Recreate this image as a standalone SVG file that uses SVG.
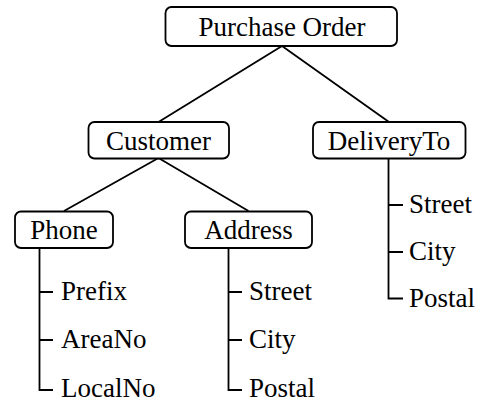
<svg xmlns="http://www.w3.org/2000/svg" width="480" height="403" viewBox="0 0 480 403">
<rect width="480" height="403" fill="#fff"/>
<g id="connectors" fill="none" stroke="#000" stroke-width="1.8">
<path d="M282 46 L158.5 122 M282 46 L389 122"/>
<path d="M158.5 158 L64 211 M158.5 158 L248.5 211"/>
<path d="M388.5 158 V298.5 H403 M388.5 205 H403 M388.5 252 H403"/>
<path d="M39.5 248 V390 H53 M39.5 292 H53 M39.5 340 H53"/>
<path d="M228.5 248 V390 H242 M228.5 292 H242 M228.5 340 H242"/>
</g>
<g id="purchase-order">
<rect x="165.5" y="7" width="231.5" height="39" rx="6" fill="#fff" stroke="#000" stroke-width="1.8"/>
<text font-family="Liberation Serif" font-size="27" text-anchor="middle" x="282" y="35.5">Purchase Order</text>
</g>
<g id="customer">
<rect x="88.5" y="122" width="140.5" height="36.5" rx="6" fill="#fff" stroke="#000" stroke-width="1.8"/>
<text font-family="Liberation Serif" font-size="27" text-anchor="middle" x="158.5" y="150">Customer</text>
</g>
<g id="deliveryto">
<rect x="313" y="122" width="152.5" height="36.5" rx="6" fill="#fff" stroke="#000" stroke-width="1.8"/>
<text font-family="Liberation Serif" font-size="27" text-anchor="middle" x="389" y="150">DeliveryTo</text>
</g>
<g id="phone">
<rect x="15" y="211.5" width="98" height="36.5" rx="6" fill="#fff" stroke="#000" stroke-width="1.8"/>
<text font-family="Liberation Serif" font-size="27" text-anchor="middle" x="64" y="239">Phone</text>
</g>
<g id="address">
<rect x="185" y="211.5" width="127" height="36.5" rx="6" fill="#fff" stroke="#000" stroke-width="1.8"/>
<text font-family="Liberation Serif" font-size="27" text-anchor="middle" x="248.5" y="239">Address</text>
</g>
<g id="phone-prefix"><text font-family="Liberation Serif" font-size="27" x="61" y="300">Prefix</text></g>
<g id="phone-areano"><text font-family="Liberation Serif" font-size="27" x="61" y="348">AreaNo</text></g>
<g id="phone-localno"><text font-family="Liberation Serif" font-size="27" x="61" y="397">LocalNo</text></g>
<g id="address-street"><text font-family="Liberation Serif" font-size="27" x="249" y="300">Street</text></g>
<g id="address-city"><text font-family="Liberation Serif" font-size="27" x="249" y="348">City</text></g>
<g id="address-postal"><text font-family="Liberation Serif" font-size="27" x="249" y="397">Postal</text></g>
<g id="delivery-street"><text font-family="Liberation Serif" font-size="27" x="409" y="213">Street</text></g>
<g id="delivery-city"><text font-family="Liberation Serif" font-size="27" x="409" y="260">City</text></g>
<g id="delivery-postal"><text font-family="Liberation Serif" font-size="27" x="409" y="307">Postal</text></g>
</svg>
